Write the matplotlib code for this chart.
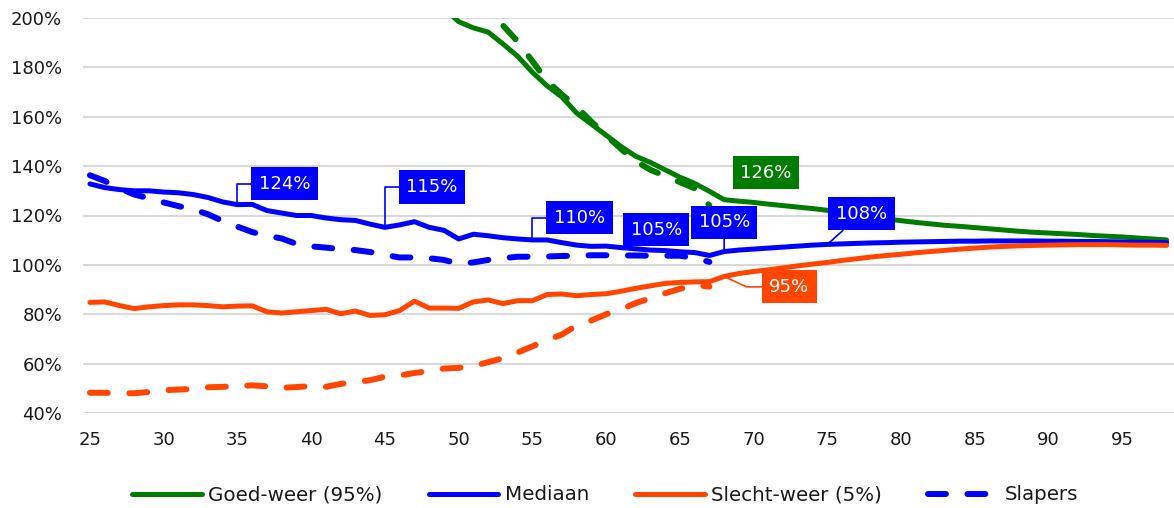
import numpy as np
import matplotlib
matplotlib.use("Agg")
import matplotlib.pyplot as plt
from matplotlib.ticker import FuncFormatter

nan = np.nan

# leeftijden 25 t/m 98
ages = np.arange(25, 99)

# Goed-weer (95%) - boven 200% valt buiten beeld
goed_weer = [nan] * 24 + [
    204.0, 198.5, 196.0, 194.3, 189.5, 184.5, 178.0, 172.5, 168.0, 161.5,
    157.0, 152.5, 148.0, 144.0, 141.5, 138.5, 135.5, 133.0, 129.8, 126.4,
    125.8, 125.3, 124.6, 124.0, 123.4, 122.8, 122.1, 121.2, 120.3, 119.4,
    118.6, 117.9, 117.2, 116.6, 116.0, 115.6, 115.1, 114.6, 114.1, 113.6,
    113.2, 112.9, 112.6, 112.3, 111.9, 111.6, 111.3, 110.9, 110.5, 110.1]

mediaan = [
    132.8, 131.3, 130.5, 130.0, 130.0, 129.5, 129.2, 128.5, 127.3, 125.5,
    124.4, 124.5, 122.0, 121.0, 120.0, 120.0, 119.0, 118.3, 118.0, 116.5,
    115.2, 116.2, 117.5, 115.2, 114.0, 110.5, 112.4, 111.8, 111.0, 110.5,
    110.1, 110.1, 109.0, 108.0, 107.5, 107.6, 107.0, 106.5, 106.0, 105.8,
    105.3, 105.0, 103.8, 105.4, 106.0, 106.4, 106.8, 107.2, 107.6, 108.0,
    108.3, 108.5, 108.7, 108.9, 109.0, 109.2, 109.3, 109.4, 109.5, 109.6,
    109.6, 109.7, 109.7, 109.7, 109.7, 109.6, 109.6, 109.5, 109.5, 109.4,
    109.3, 109.2, 109.1, 109.0]

slecht_weer = [
    84.8, 85.0, 83.5, 82.3, 83.0, 83.5, 83.8, 83.8, 83.5, 83.0,
    83.3, 83.4, 81.0, 80.5, 81.0, 81.5, 82.0, 80.2, 81.3, 79.5,
    79.8, 81.5, 85.3, 82.5, 82.5, 82.4, 85.0, 85.8, 84.3, 85.5,
    85.5, 88.0, 88.2, 87.5, 88.0, 88.3, 89.3, 90.5, 91.5, 92.5,
    92.9, 93.1, 93.2, 95.3, 96.5, 97.3, 98.0, 98.8, 99.6, 100.3,
    101.0, 101.8, 102.5, 103.2, 103.8, 104.3, 104.9, 105.4, 105.9, 106.4,
    106.8, 107.2, 107.5, 107.7, 107.9, 108.0, 108.1, 108.2, 108.2, 108.2,
    108.1, 108.0, 108.0, 107.9]

# slapers: alleen t/m 67 jaar
slapers_mediaan = [
    136.3, 134.0, 131.0, 128.5, 127.0, 125.3, 123.8, 122.5, 120.5, 117.8,
    115.5, 113.3, 111.8, 110.7, 108.5, 107.5, 107.0, 106.4, 106.0, 105.2,
    104.0, 103.0, 103.0, 102.7, 102.0, 100.5, 101.0, 102.0, 102.7, 103.3,
    103.3, 103.4, 103.6, 103.7, 103.9, 103.9, 103.8, 103.8, 103.7, 103.7,
    103.7, 102.8, 101.2] + [nan] * 31

slapers_goed = [nan] * 26 + [
    207.0, 201.0, 197.0, 190.5, 182.5, 174.5, 169.0, 164.0, 158.0, 152.5,
    147.0, 142.0, 138.5, 136.0, 133.5, 131.0, 124.0] + [nan] * 31

slapers_slecht = [
    48.2, 48.2, 48.0, 48.0, 48.5, 49.2, 49.5, 49.7, 50.4, 50.6,
    50.9, 51.2, 50.8, 50.2, 50.5, 50.9, 50.6, 51.8, 52.5, 53.3,
    54.7, 55.2, 56.2, 57.0, 58.0, 58.3, 59.0, 60.6, 62.2, 64.5,
    67.0, 69.5, 71.8, 75.5, 77.5, 80.0, 82.0, 84.5, 86.5, 88.5,
    90.3, 91.8, 91.2] + [nan] * 31

xticks = np.arange(25, 100, 5)

GREEN = '#007D00'
BLUE = '#0000FF'
ORANGE = '#FF4500'

fig = plt.figure(figsize=(11.74, 5.08), dpi=100)
ax = fig.add_axes([83 / 1174, 1 - 413 / 508, 1091 / 1174, 395 / 508])

solid = dict(lw=3.6, solid_joinstyle='round', solid_capstyle='round')
dashed = dict(lw=4.3, linestyle=(0, (3.0, 3.6)), dash_capstyle='round')

l1, = ax.plot(ages, goed_weer, color=GREEN, label='Goed-weer (95%)', **solid)
l2, = ax.plot(ages, mediaan, color=BLUE, label='Mediaan', **solid)
l3, = ax.plot(ages, slecht_weer, color=ORANGE, label='Slecht-weer (5%)', **solid)
l4, = ax.plot(ages, slapers_mediaan, color=BLUE, label='Slapers', **dashed)
ax.plot(ages, slapers_goed, color=GREEN, **dashed)
ax.plot(ages, slapers_slecht, color=ORANGE, **dashed)

ax.set_xlim(24.53, 98.5)
ax.set_ylim(40, 200)
ax.set_yticks(np.arange(40, 201, 20))
ax.set_xticks(xticks)
ax.yaxis.set_major_formatter(FuncFormatter(lambda v, p: '%d%%' % v))
ax.grid(axis='y', color='#d9d9d9', lw=1.5)
ax.set_axisbelow(True)
for s in ax.spines.values():
    s.set_visible(False)
ax.tick_params(axis='both', length=0, labelsize=13, colors='#1a1a1a')
ax.tick_params(axis='y', pad=15)
ax.tick_params(axis='x', pad=13)


def label(series, age, color, dx, dy, conn=None):
    i = int(age - 25)
    v = series[i]
    arrow = None
    if conn is not None:
        arrow = dict(arrowstyle='-', color=color, lw=1.2, shrinkA=0, shrinkB=0,
                     connectionstyle=conn)
    ax.annotate('%d%%' % round(v), xy=(age, v), xytext=(dx, dy),
                textcoords='offset points', ha='center', va='center',
                color='white', fontsize=13,
                bbox=dict(boxstyle='square,pad=0.42', fc=color, ec='none'),
                arrowprops=arrow, zorder=5)


label(mediaan, 35, BLUE, 34, 15, 'angle,angleA=0,angleB=90,rad=0')
label(mediaan, 45, BLUE, 34, 29, 'angle,angleA=0,angleB=90,rad=0')
label(mediaan, 55, BLUE, 34, 16, 'angle,angleA=0,angleB=90,rad=0')
label(mediaan, 65, BLUE, -17, 16)
label(mediaan, 68, BLUE, 0, 21, 'arc3')
label(mediaan, 75, BLUE, 24.5, 22, 'arc3')
label(goed_weer, 68, GREEN, 30, 19.5)
label(slecht_weer, 68, ORANGE, 47, -7.5, 'angle,angleA=0,angleB=-25,rad=0')

fig.legend([l1, l2, l3, l4], [l.get_label() for l in (l1, l2, l3, l4)],
           loc='center', bbox_to_anchor=(605 / 1174, 1 - 495 / 508), ncol=4,
           frameon=False, fontsize=14.3, handlelength=3.5, handletextpad=0.35,
           columnspacing=2.3, labelcolor='#1a1a1a')

fig.savefig('out.png', dpi=100)
